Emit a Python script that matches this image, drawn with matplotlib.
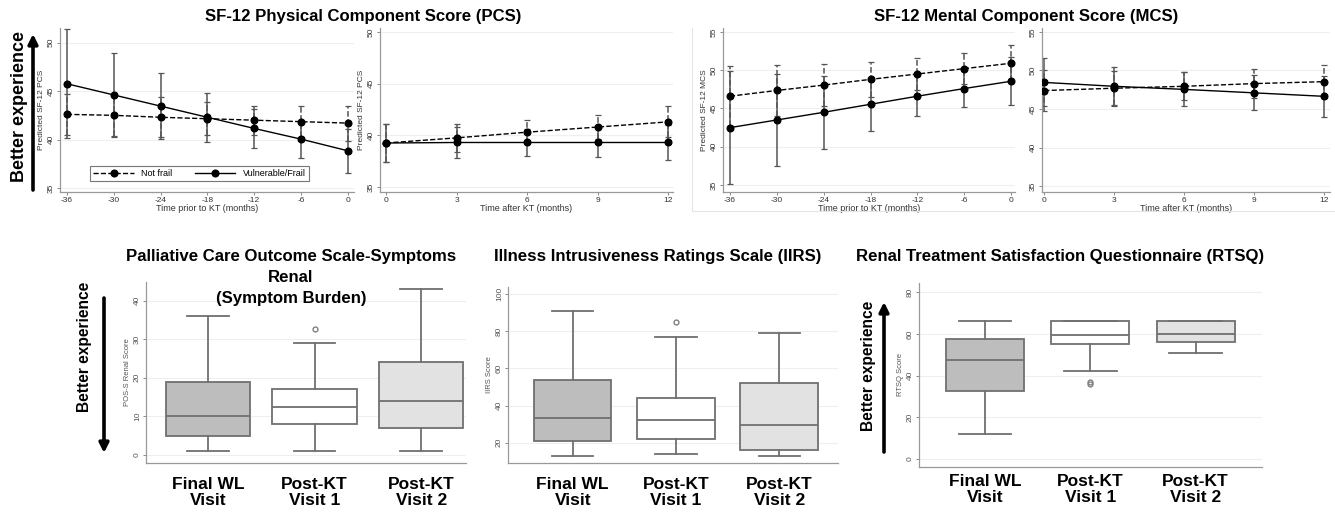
import numpy as np
import matplotlib.pyplot as plt

plt.rcParams['font.family'] = ['Liberation Sans', 'DejaVu Sans']
plt.rcParams['axes.unicode_minus'] = False

# ---- SF-12, estimaciones y semiancho del IC (Not frail / Vulnerable-Frail)
meses_pre = [-36, -30, -24, -18, -12, -6, 0]
meses_post = [0, 3, 6, 9, 12]

pcs_pre_nf = [42.6, 42.5, 42.3, 42.15, 42.0, 41.85, 41.7]
pcs_pre_nf_err = [2.15, 2.15, 2.05, 1.7, 1.5, 1.6, 1.8]
pcs_pre_vf = [45.75, 44.6, 43.45, 42.3, 41.15, 40.05, 38.85]
pcs_pre_vf_err = [5.6, 4.35, 3.4, 2.55, 2.05, 1.9, 2.25]

pcs_post_nf = [39.25, 39.75, 40.3, 40.8, 41.3]
pcs_post_nf_err = [1.8, 1.35, 1.15, 1.2, 1.5]
pcs_post_vf = [39.25, 39.3, 39.3, 39.3, 39.3]
pcs_post_vf_err = [1.8, 1.55, 1.35, 1.45, 1.7]

mcs_pre_nf = [46.6, 47.35, 48.05, 48.8, 49.5, 50.2, 50.9]
mcs_pre_nf_err = [3.95, 3.3, 2.7, 2.25, 2.05, 2.05, 2.35]
mcs_pre_vf = [42.5, 43.5, 44.5, 45.55, 46.6, 47.6, 48.55]
mcs_pre_vf_err = [7.35, 6.0, 4.75, 3.45, 2.6, 2.4, 3.15]

mcs_post_nf = [47.4, 47.7, 47.95, 48.3, 48.55]
mcs_post_nf_err = [2.7, 2.2, 1.8, 1.85, 2.15]
mcs_post_vf = [48.45, 47.95, 47.55, 47.1, 46.65]
mcs_post_vf_err = [3.1, 2.5, 2.2, 2.25, 2.65]

# ---- cajas por visita
visitas = ['Final WL\nVisit', 'Post-KT\nVisit 1', 'Post-KT\nVisit 2']

poss_q1 = [5, 8, 7]
poss_med = [10, 12.5, 14]
poss_q3 = [19, 17, 24]
poss_lo = [1, 1, 1]
poss_hi = [36, 29, 43]
poss_out = [[], [32.5], []]

iirs_q1 = [21, 22, 16]
iirs_med = [33.5, 32, 29.5]
iirs_q3 = [54, 44, 52]
iirs_lo = [13, 14, 13]
iirs_hi = [91, 77, 79]
iirs_out = [[], [85], []]

rtsq_q1 = [32.5, 55, 56]
rtsq_med = [47.5, 59.5, 60]
rtsq_q3 = [57.5, 66, 66]
rtsq_lo = [12, 42, 51]
rtsq_hi = [66, 66, 66]
rtsq_out = [[], [36, 37], []]

colores_caja = ['#bdbdbd', '#ffffff', '#e2e2e2']
gris = '#707070'

W, H = 1335, 512
fig = plt.figure(figsize=(W / 100, H / 100), dpi=100)


def caja(x0, y0, x1, y1):
    # rectangulo en pixeles (origen arriba a la izquierda) -> fraccion de figura
    return [x0 / W, 1 - y1 / H, (x1 - x0) / W, (y1 - y0) / H]


def estilo_ejes(ax):
    ax.spines['top'].set_visible(False)
    ax.spines['right'].set_visible(False)
    for s in ['left', 'bottom']:
        ax.spines[s].set_color('#999999')
        ax.spines[s].set_linewidth(0.9)
    ax.yaxis.grid(True, color='#efefef', linewidth=0.8)
    ax.set_axisbelow(True)
    ax.tick_params(colors='#888888', labelcolor='#333333', length=2.5, width=0.7, pad=1.2, labelsize=6)
    for t in ax.get_yticklabels():
        t.set_rotation(90)
        t.set_va('center')


def panel_sf12(ax, x, nf, nf_err, vf, vf_err, yticks, ylim, xlim, xlabel, ylabel):
    lineas = []
    for y, err, ls in [(nf, nf_err, '--'), (vf, vf_err, '-')]:
        eb = ax.errorbar(x, y, yerr=err, fmt='none', ecolor='#555555', elinewidth=1.1,
                         capsize=2.2, capthick=0.9, zorder=2)
        eb.lines[2][0].set_linestyle(ls)
        l, = ax.plot(x, y, color='black', linestyle=ls, linewidth=1.0, marker='o',
                     markersize=4.8, zorder=3)
        lineas.append(l)
    ax.set_xticks(x)
    ax.set_yticks(yticks)
    ax.set_xlim(*xlim)
    ax.set_ylim(*ylim)
    ax.set_xlabel(xlabel, fontsize=6.5, labelpad=0, color='#333333')
    if ylabel:
        ax.set_ylabel(ylabel, fontsize=6, labelpad=2, color='#333333')
    estilo_ejes(ax)
    return lineas


ax_a = fig.add_axes(caja(60, 28, 354, 192))
lin = panel_sf12(ax_a, meses_pre, pcs_pre_nf, pcs_pre_nf_err, pcs_pre_vf, pcs_pre_vf_err,
                 [35, 40, 45, 50], (34.6, 51.5), (-36.9, 0.8),
                 'Time prior to KT (months)', 'Predicted SF-12 PCS')
leg = ax_a.legend(lin, ['Not frail', 'Vulnerable/Frail'], loc='center', ncol=2,
                  bbox_to_anchor=(0.474, 0.113), fontsize=6.5, handlelength=4.5,
                  columnspacing=2.5, fancybox=False, framealpha=1, borderpad=0.35)
leg.get_frame().set_edgecolor('#777777')
leg.get_frame().set_linewidth(0.8)

ax_b = fig.add_axes(caja(380, 28, 673, 192))
panel_sf12(ax_b, meses_post, pcs_post_nf, pcs_post_nf_err, pcs_post_vf, pcs_post_vf_err,
           [35, 40, 45, 50], (34.5, 50.4), (-0.26, 12.2),
           'Time after KT (months)', 'Predicted SF-12 PCS')

ax_c = fig.add_axes(caja(723, 28, 1015, 192))
panel_sf12(ax_c, meses_pre, mcs_pre_nf, mcs_pre_nf_err, mcs_pre_vf, mcs_pre_vf_err,
           [35, 40, 45, 50, 55], (34.1, 55.5), (-36.9, 0.5),
           'Time prior to KT (months)', 'Predicted SF-12 MCS')

ax_d = fig.add_axes(caja(1042, 28, 1330, 192))
panel_sf12(ax_d, meses_post, mcs_post_nf, mcs_post_nf_err, mcs_post_vf, mcs_post_vf_err,
           [35, 40, 45, 50, 55], (34.26, 55.5), (-0.1, 12.25),
           'Time after KT (months)', None)


def panel_cajas(ax, q1, med, q3, lo, hi, out, ancho, ancho_cap, yticks, ylim, xlim, ylabel, pad_x=10):
    stats = []
    for i in range(len(visitas)):
        stats.append(dict(q1=q1[i], med=med[i], q3=q3[i], whislo=lo[i], whishi=hi[i], fliers=out[i]))
    bp = ax.bxp(stats, positions=[1, 2, 3], widths=ancho, capwidths=ancho_cap, patch_artist=True,
                boxprops=dict(edgecolor=gris, linewidth=1.3),
                whiskerprops=dict(color=gris, linewidth=1.3),
                capprops=dict(color=gris, linewidth=1.3),
                medianprops=dict(color=gris, linewidth=1.3),
                flierprops=dict(marker='o', markerfacecolor='none', markeredgecolor='#808080',
                                markersize=3.5, markeredgewidth=1.0))
    for p, c in zip(bp['boxes'], colores_caja):
        p.set_facecolor(c)
    ax.set_xlim(*xlim)
    ax.set_ylim(*ylim)
    ax.set_yticks(yticks)
    ax.set_xticks([1, 2, 3])
    ax.set_ylabel(ylabel, fontsize=5.5, labelpad=2, color='#555555')
    estilo_ejes(ax)
    ax.tick_params(axis='y', labelcolor='#555555')
    ax.tick_params(axis='x', length=0, pad=pad_x)
    ax.set_xticklabels(visitas, fontsize=12.5, fontweight='bold', color='black', linespacing=1.1)


ax_e = fig.add_axes(caja(146, 282, 466, 463))
panel_cajas(ax_e, poss_q1, poss_med, poss_q3, poss_lo, poss_hi, poss_out, 0.79, 0.39,
            [0, 10, 20, 30, 40], (-2.07, 44.8), (0.42, 3.42), 'POS-S Renal Score')

ax_f = fig.add_axes(caja(508, 287, 838, 463))
panel_cajas(ax_f, iirs_q1, iirs_med, iirs_q3, iirs_lo, iirs_hi, iirs_out, 0.75, 0.4,
            [20, 40, 60, 80, 100], (9.1, 103.8), (0.373, 3.57), 'IIRS Score')

ax_g = fig.add_axes(caja(919, 283, 1262, 467))
panel_cajas(ax_g, rtsq_q1, rtsq_med, rtsq_q3, rtsq_lo, rtsq_hi, rtsq_out, 0.74, 0.5,
            [0, 20, 40, 60, 80], (-4.0, 84.5), (0.374, 3.63), 'RTSQ Score', pad_x=5)

# capa en pixeles para titulos, flechas y marco
capa = fig.add_axes([0, 0, 1, 1])
capa.set_xlim(0, W)
capa.set_ylim(H, 0)
capa.axis('off')
capa.patch.set_visible(False)

tit = dict(fontsize=12.1, fontweight='bold', ha='center', va='center', color='black')
capa.text(363, 17, 'SF-12 Physical Component Score (PCS)', **tit)
capa.text(1026, 17, 'SF-12 Mental Component Score (MCS)', **tit)
capa.text(291, 257, 'Palliative Care Outcome Scale-Symptoms', **tit)
capa.text(291, 278, 'Renal', **tit)
capa.text(291, 298, '(Symptom Burden)', **tit)
capa.text(658, 257, 'Illness Intrusiveness Ratings Scale (IIRS)', **tit)
capa.text(1060, 257, 'Renal Treatment Satisfaction Questionnaire (RTSQ)', **tit)

be = dict(fontweight='bold', rotation=90, ha='center', va='center', color='black')
capa.text(20, 107, 'Better experience', fontsize=13, **be)
capa.text(85, 347, 'Better experience', fontsize=11.2, **be)
capa.text(868, 366, 'Better experience', fontsize=11.2, **be)

flecha = dict(arrowstyle='-|>', lw=2.6, color='black', mutation_scale=14, shrinkA=0, shrinkB=0)
capa.annotate('', xy=(33, 34), xytext=(33, 190), arrowprops=flecha)
capa.annotate('', xy=(104, 453), xytext=(104, 298), arrowprops=flecha)
capa.annotate('', xy=(884, 302), xytext=(884, 452), arrowprops=flecha)

capa.plot([692, 692], [28, 211], color='#e6e6e6', lw=0.8)
capa.plot([692, 1335], [211, 211], color='#e6e6e6', lw=0.8)

fig.savefig('out.png', dpi=100)
